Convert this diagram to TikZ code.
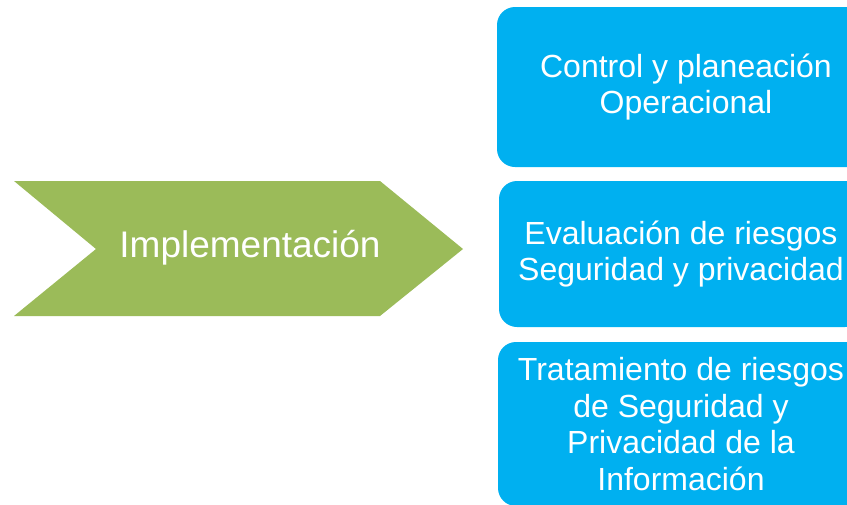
\documentclass[tikz,border=0pt]{standalone}
\usepackage{fontspec}
\setmainfont{Liberation Sans}
\definecolor{chevgreen}{HTML}{9BBB59}
\definecolor{boxblue}{HTML}{00B0F0}
\begin{document}
\begin{tikzpicture}[x=1pt,y=-1pt,
  bluebox/.style={fill=boxblue,draw=none,rounded corners=18pt,inner sep=0pt,
    text=white,align=center,font=\fontsize{32}{36.5}\selectfont},
  chevtext/.style={text=white,inner sep=0pt,font=\fontsize{37}{42}\selectfont}]
\useasboundingbox (0,0) rectangle (847,504);
\clip (0,0) rectangle (847,504);
% chevron
\fill[chevgreen] (14,181) -- (380,181) -- (463,249) -- (380,316) -- (14,316) -- (96,249) -- cycle;
\node[chevtext,anchor=base] (impl) at (250,257) {Implementación};
% boxes
\node[bluebox,minimum width=378pt,minimum height=160pt] (b1) at (686,87) {Control y planeación\\Operacional};
\node[bluebox,minimum width=364pt,minimum height=146pt] (b2) at (681,254) {Evaluación de riesgos\\Seguridad y privacidad};
\node[bluebox,minimum width=366pt,minimum height=164pt] (b3) at (681,424) {Tratamiento de riesgos\\de Seguridad y\\Privacidad de la\\Información};
\end{tikzpicture}
\end{document}
